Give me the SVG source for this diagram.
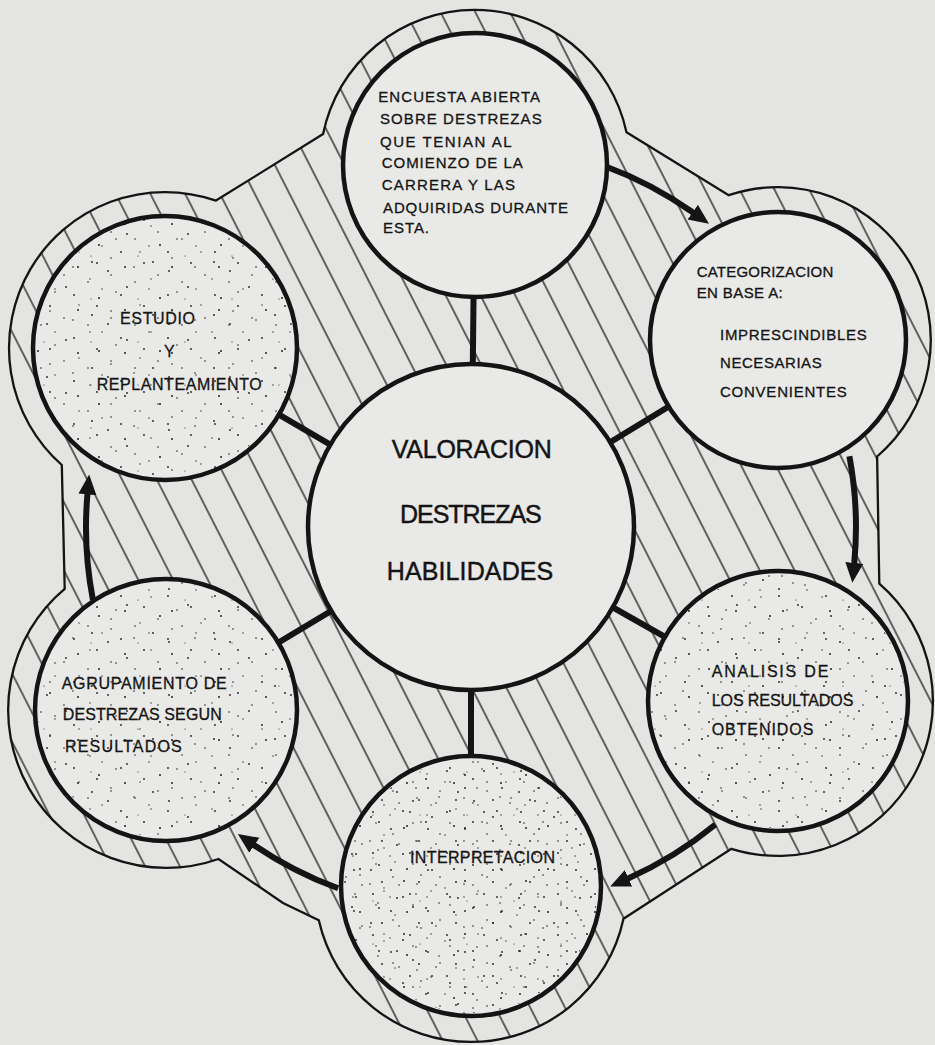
<svg xmlns="http://www.w3.org/2000/svg" width="935" height="1045" viewBox="0 0 935 1045">
<defs>
<style>
.lbl{font-family:"Liberation Sans",Arial,sans-serif;fill:#141414;stroke:#141414;stroke-width:0.3;}
.s{font-size:15px;}
.m{font-size:16px;}
.big{font-size:25px;stroke-width:0.45;}
.node{stroke:#141414;stroke-width:4.5;}
.plain{fill:#e9e9e7;}
.spoke{stroke:#141414;stroke-width:6;fill:none;}
.arrow{stroke:#141414;stroke-width:6;fill:none;marker-end:url(#ah);}
</style>
<pattern id="hatch" patternUnits="userSpaceOnUse" width="31" height="31" patternTransform="rotate(-27)">
<line x1="15" y1="-5" x2="15" y2="36" stroke="#1a1a1a" stroke-width="1.3"/>
</pattern>
<pattern id="stip" patternUnits="userSpaceOnUse" width="47" height="43">
<rect width="47" height="43" fill="#e9e9e7"/>
<g fill="#222">
<circle cx="3" cy="5" r="0.9"/><circle cx="31" cy="9" r="1"/>
<circle cx="17" cy="17" r="0.8"/><circle cx="41" cy="24" r="0.8"/>
<circle cx="8" cy="31" r="0.7"/><circle cx="27" cy="37" r="0.9"/><circle cx="44" cy="41" r="0.6"/>
</g>
</pattern>
<pattern id="stip3" patternUnits="userSpaceOnUse" width="61" height="53">
<g fill="#222">
<circle cx="12" cy="2" r="0.8"/><circle cx="47" cy="6" r="0.9"/><circle cx="29" cy="14" r="0.7"/>
<circle cx="5" cy="22" r="0.9"/><circle cx="55" cy="27" r="0.8"/><circle cx="38" cy="33" r="1"/>
<circle cx="18" cy="40" r="0.7"/><circle cx="50" cy="46" r="0.8"/><circle cx="31" cy="50" r="0.9"/>
</g>
</pattern>
<pattern id="stip2" patternUnits="userSpaceOnUse" width="37" height="41">
<g fill="#222">
<circle cx="6" cy="3" r="0.8"/><circle cx="21" cy="9" r="0.9"/><circle cx="12" cy="21" r="0.9"/>
<circle cx="29" cy="24" r="0.8"/><circle cx="3" cy="33" r="0.9"/><circle cx="20" cy="36" r="0.7"/>
</g>
</pattern>
<marker id="ah" markerUnits="userSpaceOnUse" markerWidth="22" markerHeight="20" refX="1" refY="9" orient="auto">
<path d="M0,0 L20,9 L0,18 z" fill="#141414"/>
</marker>
</defs>
<rect width="935" height="1045" fill="#e4e4e2"/>
<g id="hatched-band">
<path d="M 323.1 134.1 A 155 155 0 0 1 626.5 132.2 L 728.7 195.2 A 153 153 0 0 1 877.1 456.5 L 879.3 583.7 A 155 155 0 0 1 731.4 848.8 L 623.5 918.7 A 156 156 0 0 1 318.8 920.3 L 283 903 L 218.5 859 A 158 158 0 0 1 64.7 588.8 L 61.8 465 A 156 156 0 0 1 216 200.6 Z" fill="url(#hatch)" stroke="#141414" stroke-width="2.3" stroke-linejoin="miter"/>
</g>
<g id="connectors">
<line class="spoke" x1="471" y1="527" x2="475" y2="165"/>
<line class="spoke" x1="471" y1="527" x2="778" y2="340"/>
<line class="spoke" x1="471" y1="527" x2="778" y2="701"/>
<line class="spoke" x1="471" y1="527" x2="471" y2="886"/>
<line class="spoke" x1="471" y1="527" x2="166" y2="710"/>
<line class="spoke" x1="471" y1="527" x2="165" y2="348"/>
<path class="arrow" d="M 603.9 165.7 A 385 385 0 0 1 693.5 212.8"/>
<path class="arrow" d="M 849.4 456.2 A 385 385 0 0 1 854.2 563.9"/>
<path class="arrow" d="M 715.4 824.5 A 385 385 0 0 1 627.6 878.7"/>
<path class="arrow" d="M 338.1 888.3 A 385 385 0 0 1 253.5 844.7"/>
<path class="arrow" d="M 92.9 599.8 A 385 385 0 0 1 87.5 493.4"/>
</g>
<g id="node-valoracion">
<circle class="node plain" cx="471" cy="527" r="163" stroke-width="5"/>
<text class="lbl big" x="391.7" y="458.3" textLength="160" lengthAdjust="spacing">VALORACION</text>
<text class="lbl big" x="400" y="523.3" textLength="141.7" lengthAdjust="spacing">DESTREZAS</text>
<text class="lbl big" x="386.7" y="580" textLength="166.6" lengthAdjust="spacing">HABILIDADES</text>
</g>
<g id="node-encuesta">
<circle class="node plain" cx="475" cy="165" r="132"/>
<text class="lbl s" x="378.3" y="101.7" textLength="161.7" lengthAdjust="spacing">ENCUESTA ABIERTA</text>
<text class="lbl s" x="380" y="124" textLength="161.7" lengthAdjust="spacing">SOBRE DESTREZAS</text>
<text class="lbl s" x="380" y="146.7" textLength="131.7" lengthAdjust="spacing">QUE TENIAN AL</text>
<text class="lbl s" x="381.7" y="168.3" textLength="141" lengthAdjust="spacing">COMIENZO DE LA</text>
<text class="lbl s" x="381.7" y="190" textLength="133.3" lengthAdjust="spacing">CARRERA Y LAS</text>
<text class="lbl s" x="383" y="213.3" textLength="185" lengthAdjust="spacing">ADQUIRIDAS DURANTE</text>
<text class="lbl s" x="383" y="233.3" textLength="46" lengthAdjust="spacing">ESTA.</text>
</g>
<g id="node-categorizacion">
<circle class="node plain" cx="778" cy="340" r="128"/>
<text class="lbl s" x="696.7" y="276.7" textLength="136.6" lengthAdjust="spacing">CATEGORIZACION</text>
<text class="lbl s" x="696.7" y="298.3" textLength="86" lengthAdjust="spacing">EN BASE A:</text>
<text class="lbl s" x="720" y="340" textLength="146.7" lengthAdjust="spacing">IMPRESCINDIBLES</text>
<text class="lbl s" x="720" y="368.3" textLength="101.7" lengthAdjust="spacing">NECESARIAS</text>
<text class="lbl s" x="720" y="396.7" textLength="126.7" lengthAdjust="spacing">CONVENIENTES</text>
</g>
<g id="node-analisis">
<circle class="node" cx="778" cy="701" r="130" fill="url(#stip)"/>
<circle cx="778" cy="701" r="127" fill="url(#stip3)"/>
<text class="lbl m" x="711.7" y="677.3" textLength="116.6" lengthAdjust="spacing">ANALISIS DE</text>
<text class="lbl m" x="711.7" y="705.7" textLength="141.6" lengthAdjust="spacing">LOS RESULTADOS</text>
<text class="lbl m" x="711.7" y="735" textLength="101.6" lengthAdjust="spacing">OBTENIDOS</text>
</g>
<g id="node-interpretacion">
<circle class="node" cx="471" cy="886" r="130" fill="url(#stip)"/>
<circle cx="471" cy="886" r="127" fill="url(#stip3)"/>
<circle cx="471" cy="886" r="127" fill="url(#stip2)"/>
<text class="lbl m" x="410" y="862.7" textLength="145" lengthAdjust="spacing">INTERPRETACION</text>
</g>
<g id="node-agrupamiento">
<circle class="node" cx="166" cy="710" r="131" fill="url(#stip)"/>
<circle cx="166" cy="710" r="128" fill="url(#stip3)"/>
<text class="lbl m" x="61.7" y="689" textLength="165" lengthAdjust="spacing">AGRUPAMIENTO DE</text>
<text class="lbl m" x="62.7" y="720" textLength="159" lengthAdjust="spacing">DESTREZAS SEGUN</text>
<text class="lbl m" x="65" y="752.3" textLength="116.7" lengthAdjust="spacing">RESULTADOS</text>
</g>
<g id="node-estudio">
<circle class="node" cx="165" cy="348" r="132" fill="url(#stip)"/>
<circle cx="165" cy="348" r="129" fill="url(#stip3)"/>
<text class="lbl m" x="120" y="324" textLength="75" lengthAdjust="spacing">ESTUDIO</text>
<text class="lbl m" x="164" y="357.3">Y</text>
<text class="lbl m" x="96.7" y="390" textLength="165" lengthAdjust="spacing">REPLANTEAMIENTO</text>
</g>
</svg>
